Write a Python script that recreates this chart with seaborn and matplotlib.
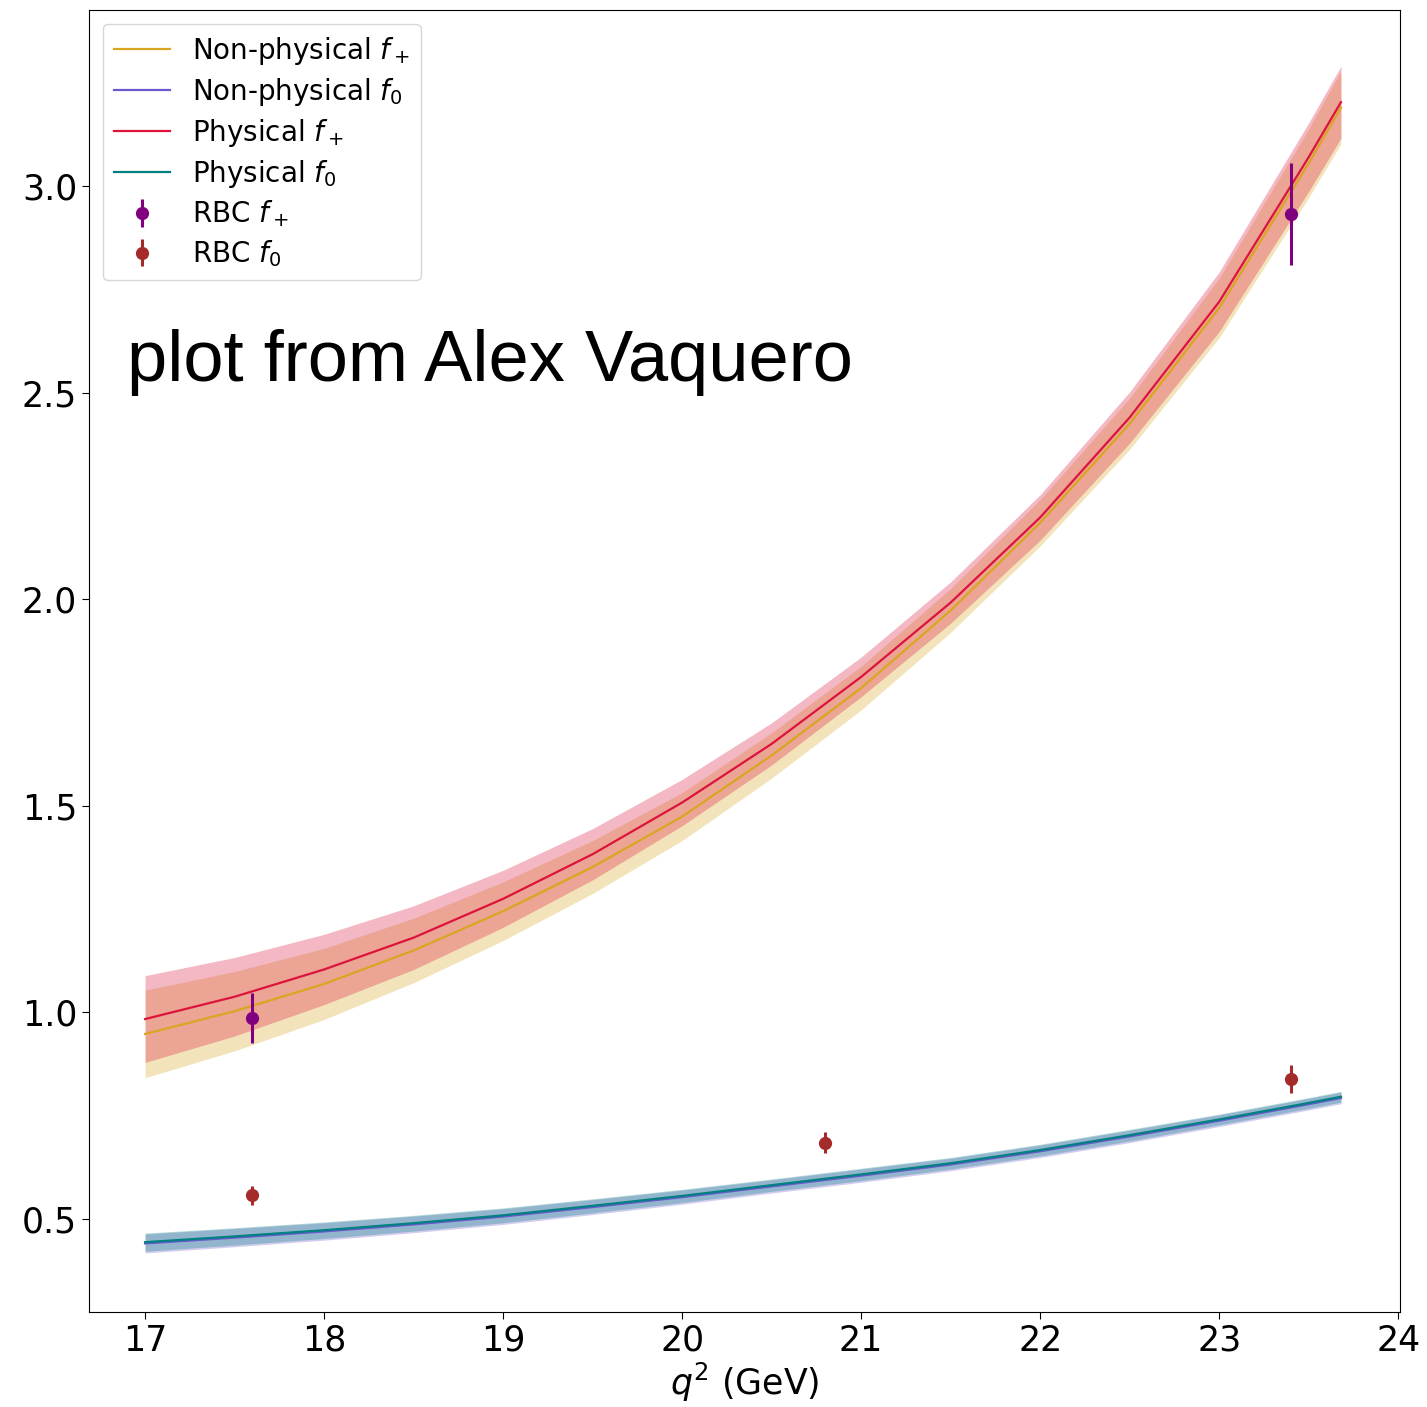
import numpy as np
import pandas as pd
import matplotlib
matplotlib.use("Agg")
import matplotlib.pyplot as plt
import seaborn as sns

# ---- data ----
q2 = [17.0, 17.5, 18.0, 18.5, 19.0, 19.5, 20.0, 20.5, 21.0, 21.5, 22.0, 22.5, 23.0, 23.5, 23.68]

nonphys_fplus = [0.948, 1.003, 1.069, 1.150, 1.245, 1.352, 1.474, 1.622, 1.785, 1.973, 2.185, 2.425, 2.705, 3.055, 3.190]
nonphys_fplus_err = [0.106, 0.096, 0.086, 0.078, 0.071, 0.064, 0.058, 0.055, 0.053, 0.053, 0.056, 0.062, 0.072, 0.083, 0.088]

phys_fplus = [0.984, 1.038, 1.104, 1.181, 1.275, 1.383, 1.508, 1.650, 1.812, 1.992, 2.198, 2.440, 2.720, 3.070, 3.203]
phys_fplus_err = [0.105, 0.095, 0.085, 0.077, 0.069, 0.062, 0.056, 0.051, 0.048, 0.050, 0.055, 0.062, 0.072, 0.083, 0.087]

phys_fzero = [0.444, 0.458, 0.473, 0.490, 0.509, 0.532, 0.556, 0.582, 0.608, 0.635, 0.667, 0.703, 0.741, 0.781, 0.796]
phys_fzero_err = [0.022, 0.021, 0.020, 0.019, 0.018, 0.017, 0.016, 0.015, 0.015, 0.014, 0.014, 0.014, 0.013, 0.013, 0.013]

nonphys_fzero = [0.441, 0.455, 0.470, 0.487, 0.506, 0.529, 0.553, 0.579, 0.605, 0.632, 0.664, 0.700, 0.738, 0.778, 0.793]
nonphys_fzero_err = [0.023, 0.022, 0.021, 0.020, 0.019, 0.018, 0.017, 0.016, 0.016, 0.015, 0.015, 0.015, 0.014, 0.014, 0.014]

rbc_q2 = [17.6, 20.8, 23.4]
rbc_fplus_q2 = [17.6, 23.4]
rbc_fplus = [0.987, 2.932]
rbc_fplus_err = [0.060, 0.123]
rbc_fzero = [0.558, 0.685, 0.839]
rbc_fzero_err = [0.023, 0.025, 0.033]

fig = plt.figure(figsize=(14.27, 14.07), dpi=100)
ax = fig.add_axes([0.0624, 0.0675, 0.9187, 0.9254])

x = np.array(q2)
series = [
    ("Non-physical $f_+$", nonphys_fplus, nonphys_fplus_err, "goldenrod"),
    ("Non-physical $f_0$", nonphys_fzero, nonphys_fzero_err, "slateblue"),
    ("Physical $f_+$", phys_fplus, phys_fplus_err, "crimson"),
    ("Physical $f_0$", phys_fzero, phys_fzero_err, "teal"),
]
for label, y, e, c in series:
    y = np.array(y); e = np.array(e)
    ax.fill_between(x, y - e, y + e, color=c, alpha=0.3, linewidth=0)
    df = pd.DataFrame({"q2": x, "f": y})
    sns.lineplot(data=df, x="q2", y="f", ax=ax, color=c, lw=1.6, label=label, legend=False)

ax.errorbar(rbc_fplus_q2, rbc_fplus, yerr=rbc_fplus_err, fmt="o", color="purple",
            ms=8.5, elinewidth=2.2, label="RBC $f_+$")
ax.errorbar(rbc_q2, rbc_fzero, yerr=rbc_fzero_err, fmt="o", color="brown",
            ms=8.5, elinewidth=2.2, label="RBC $f_0$")

ax.set_xlim(16.687, 24.01)
ax.set_ylim(0.275, 3.426)
ax.set_xticks([17, 18, 19, 20, 21, 22, 23, 24])
ax.set_yticks([0.5, 1.0, 1.5, 2.0, 2.5, 3.0])
ax.tick_params(labelsize=25, length=5)
ax.set_xlabel("$q^2$ (GeV)", fontsize=25, labelpad=2)
ax.set_ylabel("")

ax.legend(loc="upper left", fontsize=20, labelspacing=0.32, borderaxespad=0.5)

fig.text(0.089, 0.729, "plot from Alex Vaquero", fontsize=52,
         family=["Liberation Sans", "DejaVu Sans"], ha="left", va="baseline")

fig.savefig("out.png", dpi=100)
